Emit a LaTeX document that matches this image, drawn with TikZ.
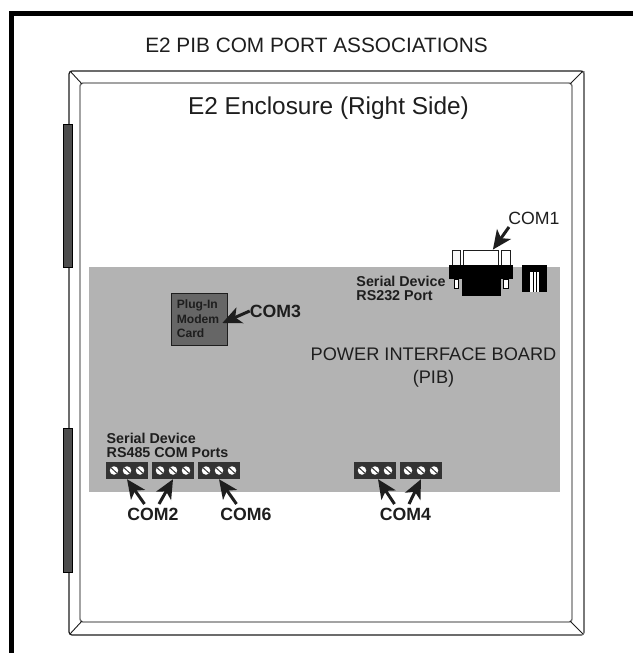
\documentclass[tikz,border=0pt]{standalone}
\usepackage{fontspec}
\setmainfont{Liberation Sans}
\usepackage{xcolor}
\usetikzlibrary{arrows.meta,positioning,calc}
\definecolor{boardgray}{HTML}{B3B3B3}
\definecolor{cardgray}{HTML}{666666}
\definecolor{hingegray}{HTML}{4D4D4D}
\definecolor{inkdark}{HTML}{1E1E1E}
\definecolor{blockdark}{HTML}{333333}

\begin{document}
\begin{tikzpicture}[
    x=1pt, y=-1pt,
    block/.style={rectangle, fill=blockdark, minimum width=42pt, minimum height=17pt, inner sep=0pt},
    screw/.style={circle, fill=white, minimum size=8.5pt, inner sep=0pt},
    hinge/.style={draw=black, line width=0.7pt, fill=hingegray},
    arrow/.style={-{Stealth[length=19pt,width=17pt,inset=5pt]}, line width=3pt, draw=inkdark},
    thin title/.style={text=inkdark, align=center, inner sep=0pt},
    comlabel/.style={text=inkdark, inner sep=0pt, font=\fontsize{17.7}{20}\selectfont\bfseries},
    smalllabel/.style={text=inkdark, align=left, inner sep=0pt, font=\fontsize{14.3}{14.2}\selectfont\bfseries}
]
\useasboundingbox (0,0) rectangle (633,653);
\fill[white] (0,0) rectangle (633,653);

% Page frame
\fill[black] (9,653) rectangle (14,11);
\fill[black] (9,11) rectangle (633,15.5);

% Enclosure
\draw[line width=1.2pt, draw=inkdark, rounded corners=3pt] (584,71) rectangle (69,635);
\draw[line width=1.4pt, draw=gray, rounded corners=3pt] (584,71) -- (584,635) -- (500,635);
\draw[line width=1.4pt, draw=gray!90!black, rounded corners=3pt] (80,83) rectangle (572,622);
\draw[line width=0.9pt, inkdark] (70,71) -- (82,84);
\draw[line width=0.9pt, inkdark] (583,71) -- (570,84);
\draw[line width=0.9pt, inkdark] (70,634) -- (82,621);
\draw[line width=0.9pt, inkdark] (583,634) -- (570,621);

% Hinges
\draw[hinge] (63.5,124) rectangle (72.5,267);
\draw[hinge] (63.5,428) rectangle (72.5,572);

% Board
\fill[boardgray] (89,267) rectangle (560,491.5);

% Titles
\node[thin title, font=\fontsize{20.8}{24}\selectfont] (title) at (316.5,45) {E2 PIB COM PORT ASSOCIATIONS};
\node[thin title, font=\fontsize{24.4}{28}\selectfont] (enc) at (328.5,108) {E2 Enclosure (Right Side)};
\node[thin title, font=\fontsize{18.2}{23}\selectfont] (pib) at (433.5,368) {POWER INTERFACE BOARD\\(PIB)};

% Modem card
\node[rectangle, draw=inkdark, line width=0.7pt, fill=cardgray, minimum width=56pt, minimum height=52pt, inner sep=0pt] (modem) at (199,319) {};
\node[smalllabel, font=\fontsize{12.1}{14.5}\selectfont\bfseries] (modemtxt) at (198,319) {Plug-In\\Modem\\Card};
\node[comlabel] (com3) at (275.5,311) {COM3};

% DB9 connector
\draw[fill=boardgray!10!white, draw=inkdark, line width=0.8pt] (452.5,250.5) rectangle (460.5,265);
\draw[fill=white, draw=inkdark, line width=0.8pt] (501.5,250.5) rectangle (510.5,265);
\node[rectangle, draw=inkdark, line width=0.8pt, fill=white, minimum width=35pt, minimum height=15pt, inner sep=0pt] (shell) at (481,257.5) {};
\fill[black] (449,265) rectangle (513,279);
\node[rectangle, fill=black, minimum width=39pt, minimum height=17pt, inner sep=0pt] (dbbody) at (481.5,287.5) {};
\draw[fill=white, draw=black, line width=0.6pt] (454,279) rectangle (458.5,288);
\draw[fill=white, draw=black, line width=0.6pt] (503.5,279) rectangle (508,288);
\node[smalllabel] (rs232) at (401,288) {Serial Device\\RS232 Port};
\node[inner sep=0pt, font=\fontsize{17.7}{20}\selectfont, text=inkdark] (com1) at (534,218) {COM1};
\coordinate (com1tail) at (509,227);

% RJ jack
\fill[black] (522,265) rectangle (547,292);
\fill[white] (530,272) rectangle (539,292);
\foreach \sx in {533,536} {
    \draw[black, line width=0.8pt] (\sx,272) -- (\sx,292);
}

% Terminal blocks
\node[block] (tb1) at (127,470.5) {};
\node[block] (tb2) at (173,470.5) {};
\node[block] (tb3) at (219,470.5) {};
\node[block] (tb4) at (375,470.5) {};
\node[block] (tb5) at (421,470.5) {};
\foreach \tb in {tb1,tb2,tb3,tb4,tb5} {
    \foreach \sx in {-13,0,13} {
        \node[screw] (\tb s\sx) at ($(\tb)+(\sx,0)$) {};
        \draw[blockdark, line width=1pt] ($(\tb s\sx)+(-3,-2.8)$) -- ($(\tb s\sx)+(3,2.8)$);
    }
}
\node[smalllabel] (rs485) at (167.5,445) {Serial Device\\RS485 COM Ports};

% COM labels
\node[comlabel] (com2) at (153,514) {COM2};
\node[comlabel] (com6) at (246,514) {COM6};
\node[comlabel] (com4) at (405.5,514) {COM4};
\coordinate (com2a) at (144.5,504);
\coordinate (com2b) at (159,504);
\coordinate (com6a) at (236.5,504);
\coordinate (com4a) at (394.5,504);
\coordinate (com4b) at (409,504);

% Arrows
\draw[arrow] (com1tail) -- ([xshift=-6pt]shell.north east);
\draw[arrow] (com3.west) -- ([xshift=-5pt,yshift=-4pt]modem.east);
\draw[arrow] (com2a) -- (tb1.south);
\draw[arrow] (com2b) -- (tb2.south);
\draw[arrow] (com6a) -- (tb3.south);
\draw[arrow] (com4a) -- ([xshift=3pt]tb4.south);
\draw[arrow] (com4b) -- (tb5.south);
\end{tikzpicture}
\end{document}
